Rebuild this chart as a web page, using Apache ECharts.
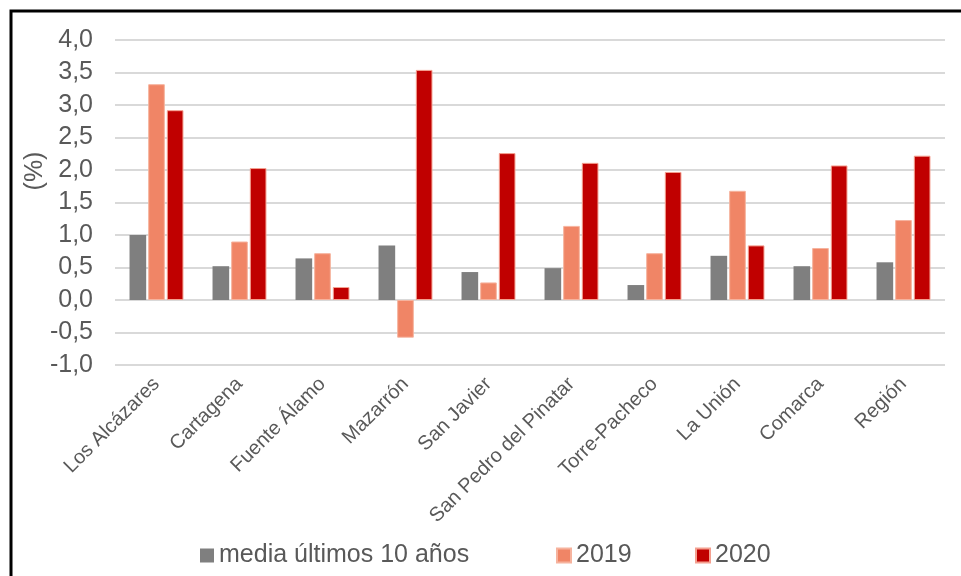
<!DOCTYPE html>
<html><head><meta charset="utf-8">
<script src="https://cdn.jsdelivr.net/npm/echarts@6/dist/echarts.min.js"></script>
<style>html,body{margin:0;padding:0;background:#fff}#c{width:961px;height:576px}</style>
</head><body><div id="c"></div>
<script>
const categories = ['Los Alcázares','Cartagena','Fuente Álamo','Mazarrón','San Javier','San Pedro del Pinatar','Torre-Pacheco','La Unión','Comarca','Región'];
const media10 = [1.00,0.52,0.64,0.84,0.43,0.49,0.23,0.68,0.52,0.58];
const s2019 = [3.32,0.90,0.72,-0.58,0.27,1.14,0.72,1.68,0.80,1.23];
const s2020 = [2.92,2.03,0.20,3.54,2.26,2.11,1.97,0.84,2.07,2.22];
const seriesNames = ['media últimos 10 años','2019','2020'];
const yAxisTitle = '(%)';

const chart = echarts.init(document.getElementById('c'));
const font = 'Liberation Sans, Arial, sans-serif';
const legendBase = {orient:'horizontal',top:538,itemWidth:14,itemHeight:14,icon:'rect',itemGap:5,
  textStyle:{fontFamily:font,fontSize:25,color:'#595959'}};
chart.setOption({
  animation:false,
  backgroundColor:'#fff',
  graphic:[
    {type:'rect',shape:{x:11,y:11,width:1000,height:600},style:{fill:'none',stroke:'#000',lineWidth:3},z:100},
    {type:'text',x:35,y:171,rotation:Math.PI/2,style:{text:yAxisTitle,fontFamily:font,fontSize:25,fill:'#595959',align:'center',verticalAlign:'middle'}}
  ],
  grid:{left:115,right:16,top:40,bottom:211,containLabel:false,outerBoundsMode:'none'},
  legend:[
    Object.assign({},legendBase,{left:195,data:[seriesNames[0]]}),
    Object.assign({},legendBase,{left:551,data:[seriesNames[1]]}),
    Object.assign({},legendBase,{left:690,data:[seriesNames[2]]})
  ],
  xAxis:{
    type:'category',data:categories,
    axisLine:{show:false},axisTick:{show:false},
    axisLabel:{rotate:45,interval:0,fontFamily:font,fontSize:20,color:'#595959',margin:16}
  },
  yAxis:{
    type:'value',min:-1,max:4,interval:0.5,
    axisLine:{show:false},axisTick:{show:false},
    splitLine:{lineStyle:{color:'#d9d9d9',width:2}},
    axisLabel:{fontFamily:font,fontSize:25,color:'#595959',margin:22,formatter:v=>v.toFixed(1).replace('.',',')}
  },
  series:[
    {name:seriesNames[0],type:'bar',data:media10,barGap:'12%',barCategoryGap:'35%',itemStyle:{color:'#7f7f7f'}},
    {name:seriesNames[1],type:'bar',data:s2019,itemStyle:{color:'#f08566',borderColor:'#f6b39e',borderWidth:1}},
    {name:seriesNames[2],type:'bar',data:s2020,itemStyle:{color:'#c00000',borderColor:'#f4a090',borderWidth:1}}
  ]
});
</script></body></html>
